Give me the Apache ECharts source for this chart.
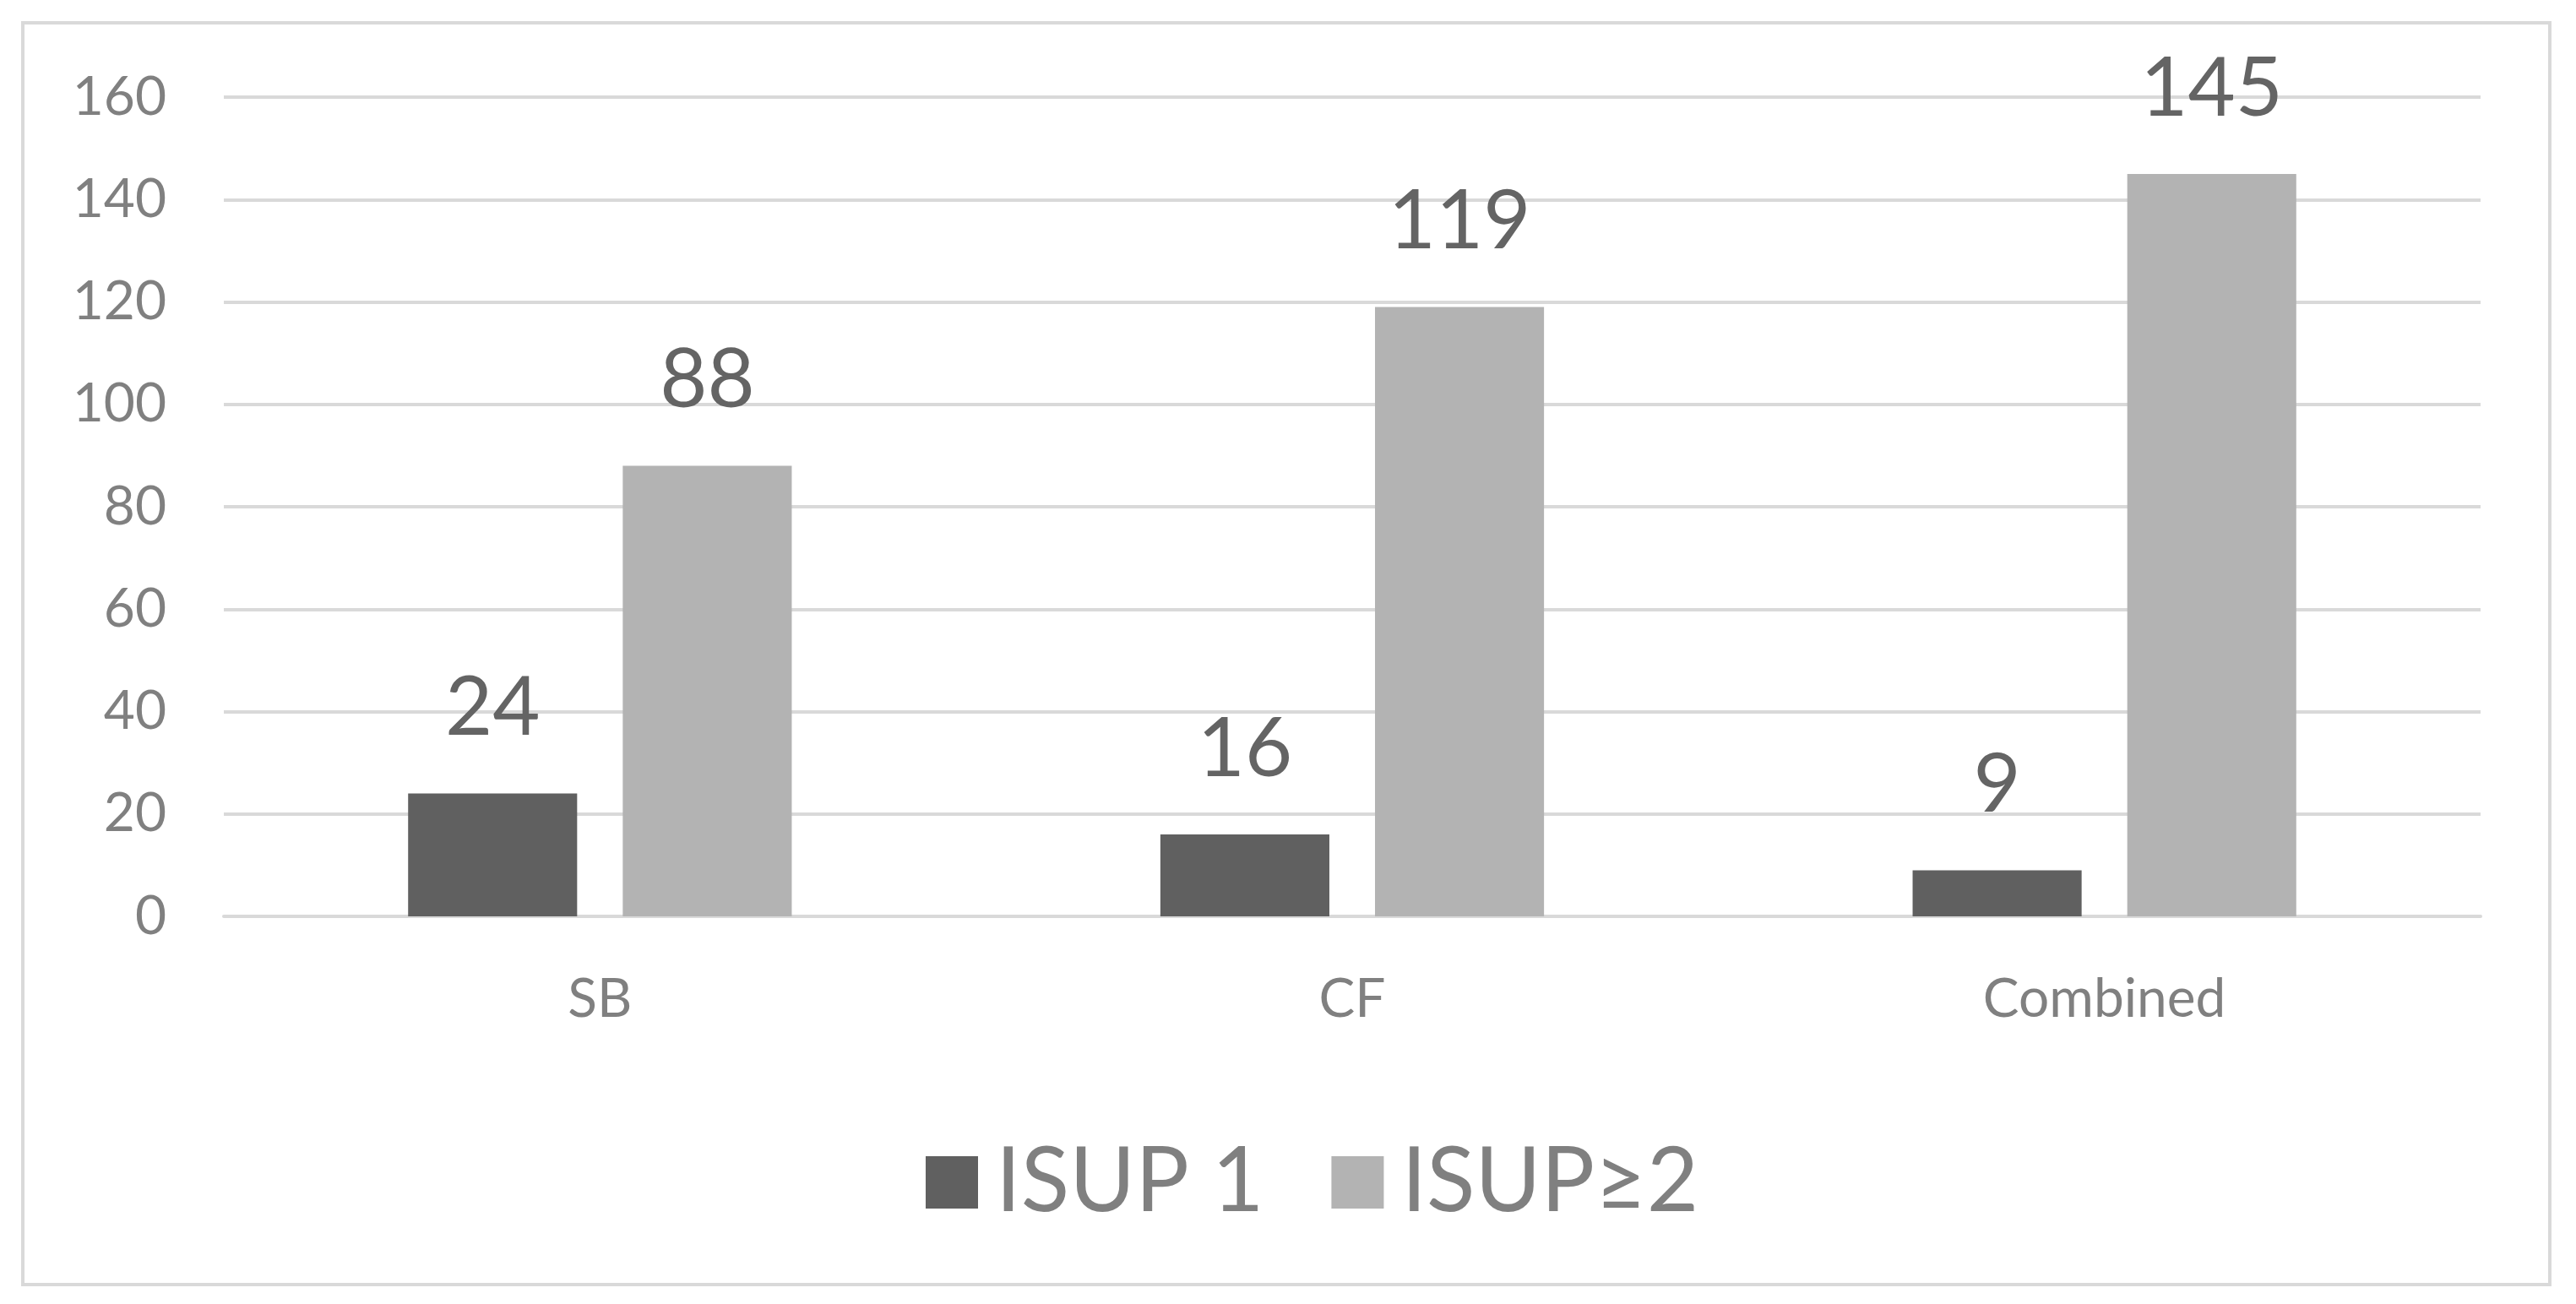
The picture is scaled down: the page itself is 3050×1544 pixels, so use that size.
<!DOCTYPE html>
<html><head><meta charset="utf-8">
<script src="https://cdn.jsdelivr.net/npm/echarts@6/dist/echarts.min.js"></script>
<style>html,body{margin:0;padding:0;background:#fff}#c{width:3050px;height:1544px}</style>
</head><body><div id="c"></div>
<script>
const categories = ['SB', 'CF', 'Combined'];
const seriesNames = ['ISUP 1', 'ISUP≥2'];
const isup1 = [24, 16, 9];
const isup2 = [88, 119, 145];
const yTicks = [0, 20, 40, 60, 80, 100, 120, 140, 160];

const FONT = 'Lato';
const chart = echarts.init(document.getElementById('c'));
chart.setOption({
  backgroundColor: '#ffffff',
  animation: false,
  graphic: [{
    type: 'rect', shape: { x: 27, y: 27, width: 2992, height: 1494 },
    style: { fill: 'none', stroke: '#d9d9d9', lineWidth: 4 }, z: -1
  }],
  grid: { left: 265, right: 113, top: 115, bottom: 459 },
  legend: {
    data: seriesNames, left: 1091, top: 1373 - 31, itemWidth: 62, itemHeight: 62, itemGap: 80,
    icon: 'rect',
    textStyle: { fontFamily: FONT, fontSize: 106, color: '#808080', padding: [0, 0, 0, 16] }
  },
  xAxis: {
    type: 'category', data: categories,
    axisLine: { show: true, lineStyle: { color: '#d9d9d9', width: 4 } },
    axisTick: { show: false },
    axisLabel: { fontFamily: FONT, fontSize: 64, color: '#808080', margin: 66 }
  },
  yAxis: {
    type: 'value', min: yTicks[0], max: yTicks[yTicks.length - 1], interval: yTicks[1] - yTicks[0],
    axisLine: { show: false }, axisTick: { show: false },
    axisLabel: { fontFamily: FONT, fontSize: 64, color: '#808080', margin: 68 },
    splitLine: { lineStyle: { color: '#d9d9d9', width: 4 } }
  },
  series: [
    { name: seriesNames[0], type: 'bar', data: isup1, barGap: '27%', barCategoryGap: '49%',
      itemStyle: { color: '#606060' },
      label: { show: true, position: 'top', distance: 52, fontFamily: FONT, fontSize: 97, color: '#646464' } },
    { name: seriesNames[1], type: 'bar', data: isup2, barGap: '27%', barCategoryGap: '49%',
      itemStyle: { color: '#b3b3b3' },
      label: { show: true, position: 'top', distance: 52, fontFamily: FONT, fontSize: 97, color: '#646464' } }
  ]
});
</script></body></html>
